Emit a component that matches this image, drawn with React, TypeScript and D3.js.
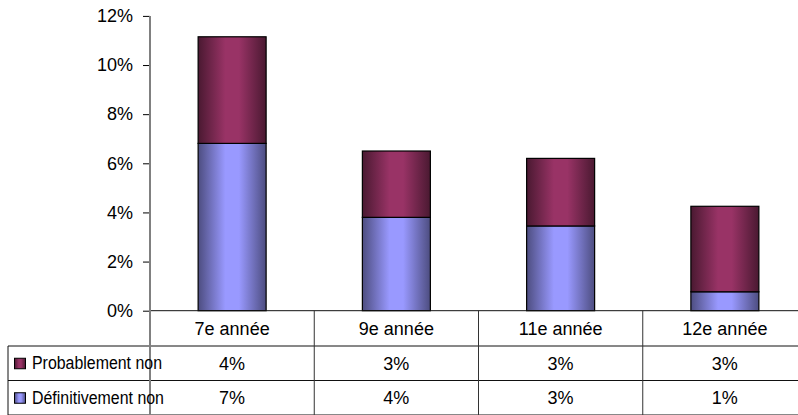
import React, { useEffect, useRef } from 'react';
import * as d3 from 'd3';

const categories = ['7e année', '9e année', '11e année', '12e année'];
const definitivementNon = [6.81, 3.8, 3.45, 0.77];
const probablementNon = [4.34, 2.7, 2.75, 3.48];
const yTicks = [0, 2, 4, 6, 8, 10, 12];

const series = [
  { key: 'def', name: 'Définitivement non', values: definitivementNon, light: '#9999ff', dark: '#4d4d80' },
  { key: 'prob', name: 'Probablement non', values: probablementNon, light: '#993366', dark: '#4a1931' },
];

const FONT = 'Liberation Sans, Arial, sans-serif';

export default function App() {
  const svgRef = useRef<SVGSVGElement>(null);

  useEffect(() => {
    if (!svgRef.current) return;
    const svg = d3.select(svgRef.current);
    svg.selectAll('*').remove();

    const W = 798;
    const plotLeft = 150;
    const plotRight = 807;
    const plotTop = 15.9;
    const plotBottom = 310.7;
    const catRowBottom = 346;
    const rowHeight = 34.5;
    const tableLeft = 8;

    const x = d3.scaleBand<string>().domain(categories).range([plotLeft, plotRight]).padding(0);
    const y = d3.scaleLinear().domain([0, 12]).range([plotBottom, plotTop]);
    const barW = x.bandwidth() * 0.414;

    // gradients (cylinder-ish shading)
    const defs = svg.append('defs');
    series.forEach(s => {
      const g = defs.append('linearGradient').attr('id', 'grad-' + s.key)
        .attr('x1', '0%').attr('x2', '100%').attr('y1', '0%').attr('y2', '0%');
      g.append('stop').attr('offset', '0%').attr('stop-color', s.dark);
      g.append('stop').attr('offset', '40%').attr('stop-color', s.light);
      g.append('stop').attr('offset', '60%').attr('stop-color', s.light);
      g.append('stop').attr('offset', '100%').attr('stop-color', s.dark);
    });

    // stacked bars
    const stackData = categories.map((c, i) => ({ cat: c, def: definitivementNon[i], prob: probablementNon[i] }));
    const stacked = d3.stack<any>().keys(['def', 'prob'])(stackData);

    stacked.forEach(layer => {
      svg.append('g').selectAll('rect')
        .data(layer)
        .enter().append('rect')
        .attr('x', (d: any) => (x(d.data.cat) as number) + (x.bandwidth() - barW) / 2)
        .attr('y', (d: any) => y(d[1]))
        .attr('width', barW)
        .attr('height', (d: any) => y(d[0]) - y(d[1]))
        .attr('fill', `url(#grad-${layer.key})`)
        .attr('stroke', '#000')
        .attr('stroke-width', 1.2);
    });

    // y axis
    const yAxis = svg.append('g')
      .attr('transform', `translate(${plotLeft},0)`)
      .call(d3.axisLeft(y).tickValues(yTicks).tickSize(7).tickPadding(10).tickFormat(d => `${d}%`));
    yAxis.select('.domain').remove();
    yAxis.selectAll('text').attr('font-family', FONT).attr('font-size', 18).attr('fill', '#000');
    yAxis.selectAll('line').attr('stroke', '#000');

    // table grid
    const grid = svg.append('g').attr('stroke', '#111').attr('stroke-width', 1).attr('fill', 'none');
    grid.append('line').attr('x1', plotLeft).attr('x2', W).attr('y1', plotBottom).attr('y2', plotBottom);
    [catRowBottom, catRowBottom + rowHeight, catRowBottom + rowHeight * 2].forEach(yy => {
      grid.append('line').attr('x1', tableLeft).attr('x2', W).attr('y1', yy).attr('y2', yy);
    });
    grid.append('line').attr('x1', tableLeft).attr('x2', tableLeft)
      .attr('y1', catRowBottom).attr('y2', catRowBottom + rowHeight * 2);
    categories.slice(1).forEach(c => {
      const xx = x(c) as number;
      grid.append('line').attr('x1', xx).attr('x2', xx).attr('y1', plotBottom).attr('y2', catRowBottom + rowHeight * 2)
        .attr('stroke', '#333');
    });
    // vertical axis line, runs through the table
    svg.append('line').attr('x1', plotLeft).attr('x2', plotLeft)
      .attr('y1', plotTop).attr('y2', catRowBottom + rowHeight * 2)
      .attr('stroke', '#808080').attr('stroke-width', 2);

    // category labels
    svg.append('g').selectAll('text')
      .data(categories)
      .enter().append('text')
      .attr('x', d => (x(d) as number) + x.bandwidth() / 2)
      .attr('y', (plotBottom + catRowBottom) / 2)
      .attr('dy', '0.35em')
      .attr('text-anchor', 'middle')
      .attr('font-family', FONT).attr('font-size', 18)
      .text(d => d);

    // data rows
    const rows = [series[1], series[0]];
    rows.forEach((s, r) => {
      const cy = catRowBottom + rowHeight * r + rowHeight / 2;
      svg.append('rect')
        .attr('x', 14.5).attr('y', cy - 5).attr('width', 11).attr('height', 10.5)
        .attr('fill', `url(#grad-${s.key})`).attr('stroke', '#000').attr('stroke-width', 1);
      svg.append('text')
        .attr('x', 32).attr('y', cy).attr('dy', '0.35em')
        .attr('font-family', FONT).attr('font-size', 17.5)
        .attr('textLength', s.key === 'def' ? 132 : 130)
        .attr('lengthAdjust', 'spacingAndGlyphs')
        .text(s.name);
      svg.append('g').selectAll('text')
        .data(s.values)
        .enter().append('text')
        .attr('x', (_, i) => (x(categories[i]) as number) + x.bandwidth() / 2)
        .attr('y', cy).attr('dy', '0.35em')
        .attr('text-anchor', 'middle')
        .attr('font-family', FONT).attr('font-size', 18)
        .text(v => `${Math.round(v)}%`);
    });
  }, []);

  return (
    <div style={{ position: 'fixed', left: 0, top: 0, width: 798, height: 415, overflow: 'hidden', background: '#fff' }}>
      <svg ref={svgRef} width={798} height={415} style={{ display: 'block' }}></svg>
    </div>
  );
}
